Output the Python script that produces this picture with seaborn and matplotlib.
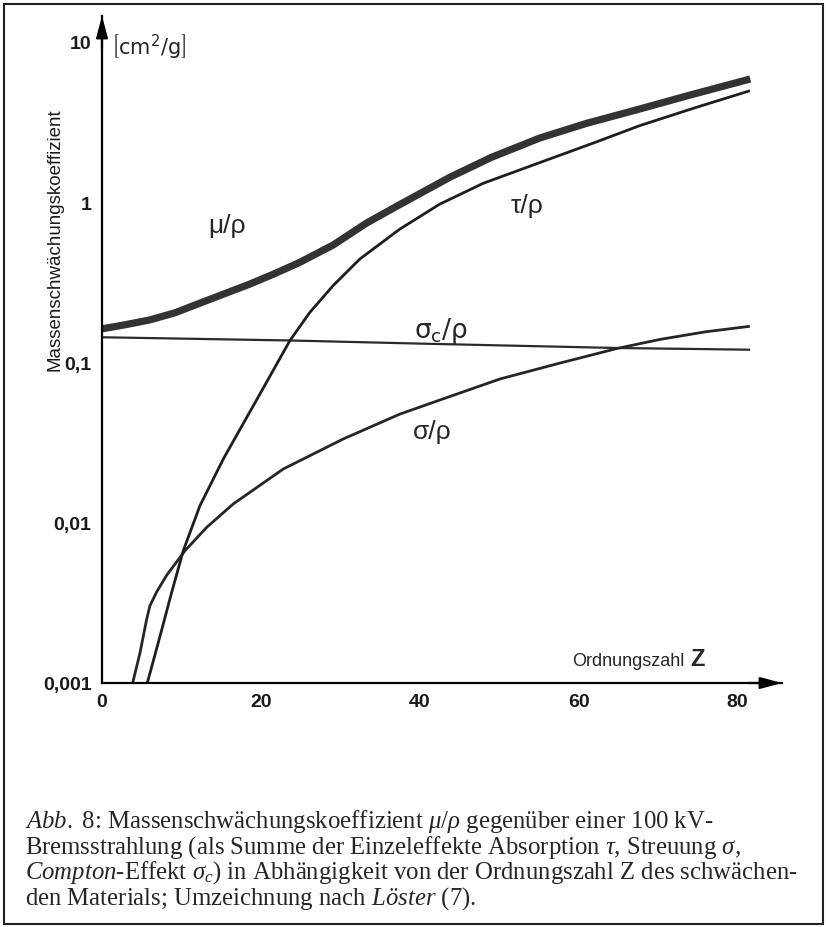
import numpy as np
import pandas as pd
import matplotlib
matplotlib.use("Agg")
import matplotlib.pyplot as plt
import seaborn as sns
from matplotlib.patches import Rectangle
from matplotlib.ticker import NullLocator

# ---------------- data ----------------
z_mu = [0, 3, 6, 9.2, 12.3, 15.5, 18.6, 21.8, 24.9, 29.1, 33.3, 37.5, 43.8, 49, 55.1,
        61, 67.7, 74, 81.6]
mu_rho = [0.162, 0.172, 0.184, 0.204, 0.234, 0.269, 0.308, 0.359, 0.421, 0.54, 0.74, 0.966,
          1.43, 1.90, 2.51, 3.1, 3.81, 4.65, 5.86]

z_tau = [5.70, 6.67, 7.68, 8.68, 10.23, 12.33, 15.27, 19.88, 23.66, 26.18, 29.11, 32.47,
         37.5, 42.5, 47.99, 56.38, 62.0, 67.7, 74.6, 81.55]
tau_rho = [0.001, 0.0015, 0.0023, 0.00354, 0.00669, 0.01277, 0.02497, 0.0635, 0.137, 0.2056,
           0.302, 0.442, 0.679, 0.97, 1.31, 1.86, 2.35, 3.0, 3.87, 4.95]

z_sig = [3.86, 4.78, 5.63, 6.04, 6.88, 8.14, 10.45, 13.18, 16.52, 22.82, 30.37, 37.5, 43.8,
         50.1, 57.6, 64.8, 70.2, 75.9, 81.55]
sig_rho = [0.001, 0.00154, 0.00251, 0.00304, 0.0037, 0.0047, 0.00669, 0.00936, 0.01309,
           0.02163, 0.0333, 0.0476, 0.0613, 0.0788, 0.0989, 0.122, 0.139, 0.155, 0.168]

z_sigc = [0, 23.7, 40, 64.8, 81.6]
sigc_rho = [0.1435, 0.137, 0.131, 0.123, 0.120]

y_ticks = [0.001, 0.01, 0.1, 1, 10]
y_tick_labels = ["0,001", "0,01", "0,1", "1", "10"]
x_ticks = [0, 20, 40, 60, 80]
x_tick_labels = ["0", "20", "40", "60", "80"]

caption_lines = [
    r"$\mathit{Abb.\ 8}$: Massenschwächungskoeffizient $\mathit{\mu/\rho}$ gegenüber einer 100 kV-",
    r"Bremsstrahlung (als Summe der Einzeleffekte Absorption $\tau$, Streuung $\sigma$,",
    r"$\mathit{Compton}$-Effekt $\sigma_{c}$) in Abhängigkeit von der Ordnungszahl Z des schwächen-",
    r"den Materials; Umzeichnung nach $\mathit{Löster}$ (7).",
]

# ---------------- style ----------------
sns.set_theme(style="white")
plt.rcParams["font.family"] = ["Liberation Sans", "DejaVu Sans"]
plt.rcParams["mathtext.fontset"] = "custom"
plt.rcParams["mathtext.rm"] = "Liberation Serif"
plt.rcParams["mathtext.it"] = "Liberation Serif:italic"
plt.rcParams["mathtext.bf"] = "Liberation Serif:bold"

W, H = 826, 928
fig = plt.figure(figsize=(W / 100, H / 100), dpi=100)
fig.patch.set_facecolor("white")


def px(x, y):
    return x / W, 1 - y / H


ax = fig.add_axes([102 / W, 1 - 684 / H, (782 - 102) / W, (684 - 17) / H])
ax.set_facecolor("white")

series = [
    (z_sigc, sigc_rho, "#2a2a2a", 1.6),
    (z_sig, sig_rho, "#262626", 2.0),
    (z_tau, tau_rho, "#1e1e1e", 2.0),
    (z_mu, mu_rho, "#333333", 5.2),
]
for zx, vy, col, lw in series:
    df = pd.DataFrame({"Z": zx, "v": vy})
    sns.lineplot(data=df, x="Z", y="v", ax=ax, color=col, lw=lw,
                 estimator=None, sort=False, solid_capstyle="butt",
                 solid_joinstyle="round")

ax.set_yscale("log")
ax.set_xlim(0, 85.6)
ax.set_ylim(0.001, 10 ** ((684 - 17) / 160.3 - 3))
ax.set_xlabel("")
ax.set_ylabel("")

for s in ["top", "right"]:
    ax.spines[s].set_visible(False)
for s in ["left", "bottom"]:
    ax.spines[s].set_color("black")
    ax.spines[s].set_linewidth(1.6)

ax.set_yticks(y_ticks)
ax.set_yticklabels(y_tick_labels)
ax.yaxis.set_minor_locator(NullLocator())
ax.set_xticks(x_ticks)
ax.set_xticklabels(x_tick_labels)
ax.tick_params(axis="both", direction="inout", length=8, width=1.4, colors="black",
               labelsize=14, pad=3.5)
for lab in ax.get_xticklabels() + ax.get_yticklabels():
    lab.set_fontweight("bold")
    lab.set_color("#1a1a1a")

# axis arrows
for xy, xyt in [((1, 0), (0.95, 0)), ((0, 1), (0, 0.95))]:
    ax.annotate("", xy=xy, xycoords="axes fraction", xytext=xyt,
                arrowprops=dict(arrowstyle="-|>,head_length=1.3,head_width=0.35",
                                color="black", lw=1.6, mutation_scale=10,
                                shrinkA=0, shrinkB=0), annotation_clip=False)

# curve labels
fig.text(*px(227, 226), "μ/ρ", fontsize=19, ha="center", va="center")
fig.text(*px(527, 206), "τ/ρ", fontsize=19, ha="center", va="center")
fig.text(*px(441, 331), r"$\mathrm{σ_{c}/ρ}$", fontsize=19, ha="center", va="center",
         math_fontfamily="dejavusans")
fig.text(*px(432, 432), "σ/ρ", fontsize=19, ha="center", va="center")

# axis titles
fig.text(*px(572, 666), "Ordnungszahl", fontsize=13, ha="left", va="baseline")
fig.text(*px(690, 666), "Z", fontsize=17, fontweight="bold", ha="left", va="baseline")
fig.text(*px(55, 240), "Massenschwächungskoeffizient", fontsize=13.5, rotation=90,
         ha="center", va="center", color="#1a1a1a")
fig.text(*px(149, 47), r"$\left[\mathsf{cm^2/g}\right]$", fontsize=15, ha="center",
         va="center", math_fontfamily="dejavusans")

# caption
base_y = [828, 854, 879, 905]
for line, yb in zip(caption_lines, base_y):
    fig.text(*px(25, yb), line, fontsize=17.8, ha="left", va="baseline",
             family="Liberation Serif")

# outer frame
fig.patches.append(Rectangle(px(4, 925), (823 - 4) / W, (925 - 5) / H,
                             transform=fig.transFigure, fill=False,
                             edgecolor="#222222", lw=1.5))

fig.savefig("out.png", dpi=100)
